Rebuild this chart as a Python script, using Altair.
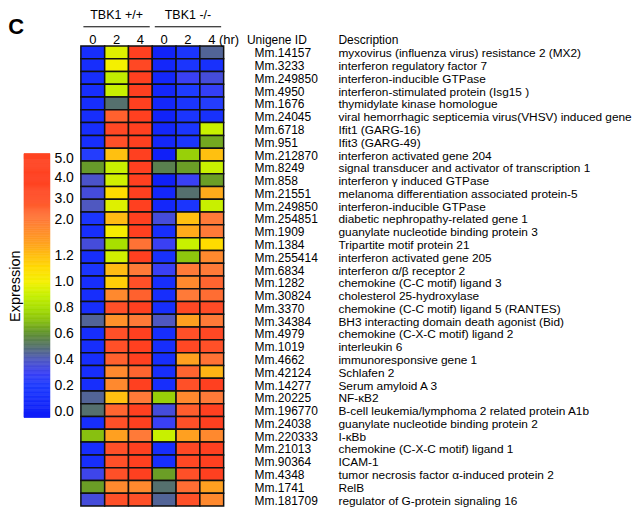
import altair as alt
import pandas as pd

FONT = "Liberation Sans"

unigene_ids = [
    "Mm.14157", "Mm.3233", "Mm.249850", "Mm.4950", "Mm.1676", "Mm.24045",
    "Mm.6718", "Mm.951", "Mm.212870", "Mm.8249", "Mm.858", "Mm.21551",
    "Mm.249850", "Mm.254851", "Mm.1909", "Mm.1384", "Mm.255414", "Mm.6834",
    "Mm.1282", "Mm.30824", "Mm.3370", "Mm.34384", "Mm.4979", "Mm.1019",
    "Mm.4662", "Mm.42124", "Mm.14277", "Mm.20225", "Mm.196770", "Mm.24038",
    "Mm.220333", "Mm.21013", "Mm.90364", "Mm.4348", "Mm.1741", "Mm.181709",
]
descriptions = [
    "myxovirus (influenza virus) resistance 2 (MX2)",
    "interferon regulatory factor 7",
    "interferon-inducible GTPase",
    "interferon-stimulated protein (Isg15 )",
    "thymidylate kinase homologue",
    "viral hemorrhagic septicemia virus(VHSV) induced gene",
    "Ifit1 (GARG-16)",
    "Ifit3 (GARG-49)",
    "interferon activated gene 204",
    "signal transducer and activator of transcription 1",
    "interferon \u03b3 induced GTPase",
    "melanoma differentiation associated protein-5",
    "interferon-inducible GTPase",
    "diabetic nephropathy-related gene 1",
    "guanylate nucleotide binding protein 3",
    "Tripartite motif protein 21",
    "interferon activated gene 205",
    "interferon \u03b1/\u03b2 receptor 2",
    "chemokine (C-C motif) ligand 3",
    "cholesterol 25-hydroxylase",
    "chemokine (C-C motif) ligand 5 (RANTES)",
    "BH3 interacting domain death agonist (Bid)",
    "chemokine (C-X-C motif) ligand 2",
    "interleukin 6",
    "immunoresponsive gene 1",
    "Schlafen 2",
    "Serum amyloid A 3",
    "NF-\u03baB2",
    "B-cell leukemia/lymphoma 2 related protein A1b",
    "guanylate nucleotide binding protein 2",
    "I-\u03baBb",
    "chemokine (C-X-C motif) ligand 1",
    "ICAM-1",
    "tumor necrosis factor \u03b1-induced protein 2",
    "RelB",
    "regulator of G-protein signaling 16",
]

col_keys = ["p0", "p2", "p4", "m0", "m2", "m4"]
col_labels = ["0", "2", "4", "0", "2", "4 (hr)"]
group_names = ["TBK1 +/+", "TBK1 -/-"]
group_start = ["p0", "m0"]
group_mid = ["p2", "m2"]
group_end = ["p4", "m4"]

wt_0h = [0.1, 0.1, 0.1, 0.1, 0.1, 0.1, 0.1, 0.1, 0.22, 0.62, 0.38, 0.35,
         0.4, 0.15, 0.1, 0.35, 0.1, 0.15, 0.1, 0.1, 0.1, 0.45, 0.1, 0.1,
         0.1, 0.1, 0.1, 0.45, 0.5, 0.1, 0.7, 0.1, 0.1, 0.32, 0.63, 0.35]
wt_2h = [0.95, 1.0, 0.88, 0.9, 0.5, 2.6, 3.5, 3.0, 1.2, 0.9, 0.92, 1.1,
         0.95, 1.25, 1.02, 0.8, 0.92, 1.25, 1.15, 1.8, 3.0, 1.7, 3.0, 3.0,
         2.6, 1.8, 1.8, 1.2, 2.5, 3.0, 1.5, 3.0, 3.0, 3.0, 1.8, 3.0]
wt_4h = [4.0, 3.5, 4.0, 4.0, 4.0, 4.0, 4.0, 4.0, 4.0, 4.0, 4.0, 4.0,
         4.0, 4.0, 4.0, 2.2, 4.0, 2.0, 3.0, 2.6, 4.0, 2.0, 4.0, 4.0,
         4.0, 2.5, 4.0, 2.0, 4.0, 4.0, 2.0, 4.0, 4.0, 4.0, 1.8, 3.0]
ko_0h = [0.02, 0.05, 0.05, 0.05, 0.05, 0.02, 0.05, 0.05, 0.0, 0.55, 0.0, 0.05,
         0.05, 0.35, 0.1, 0.3, 0.12, 0.3, 0.1, 0.1, 0.1, 0.4, 0.1, 0.1,
         0.1, 0.1, 0.1, 0.75, 0.35, 0.3, 0.9, 0.1, 0.1, 0.63, 0.5, 0.45]
ko_2h = [0.15, 0.15, 0.3, 0.2, 0.15, 0.15, 0.15, 0.15, 0.75, 0.63, 0.3, 0.5,
         0.15, 1.2, 1.4, 0.9, 0.72, 2.0, 1.8, 2.0, 3.5, 1.5, 3.0, 3.5,
         1.5, 2.5, 3.0, 1.8, 2.7, 3.0, 1.5, 3.5, 3.5, 3.0, 2.3, 3.0]
ko_4h = [0.45, 0.12, 0.35, 0.28, 0.22, 0.12, 0.9, 0.65, 1.2, 0.9, 0.63, 1.4,
         0.9, 2.0, 2.0, 1.1, 1.8, 2.0, 2.5, 2.3, 3.3, 2.0, 3.5, 3.0,
         2.2, 1.3, 4.0, 2.0, 4.0, 4.0, 1.8, 4.0, 4.0, 4.0, 1.5, 1.8]

color_stops = [0.0, 0.2, 0.3, 0.4, 0.5, 0.6, 0.7, 0.8, 0.9, 1.0, 1.1, 1.2, 1.5, 2.0, 3.0, 4.0, 5.0]
color_hex = ["#1020f8", "#1e3cff", "#3a40f4", "#4f58c0", "#55706e", "#5f9030",
             "#88c010", "#a8e000", "#c8f000", "#f4f000", "#ffdc00", "#ffc010",
             "#ffa020", "#ff7a38", "#ff5028", "#ff4020", "#ff4624"]

legend_ticks = [0.0, 0.2, 0.4, 0.6, 0.8, 1.0, 1.2, 2.0, 3.0, 4.0, 5.0]
legend_domain = [-0.05] + legend_ticks + [5.25]
# page position (reference pixels) of each legend stop
legend_ref_page = [418, 412, 386, 360, 334, 308, 282, 256, 220, 199, 178, 159, 154]

ROW_H = 12.8
PANEL_TOP = 20.4  # page y of the top of the panels
rows = [f"r{i + 1:02d}" for i in range(len(unigene_ids))]
y_domain = ["g", "t"] + rows
H = ROW_H * len(y_domain)
legend_range = [p - PANEL_TOP for p in legend_ref_page]

records = []
for key, vals in zip(col_keys, [wt_0h, wt_2h, wt_4h, ko_0h, ko_2h, ko_4h]):
    for r, v in zip(rows, vals):
        records.append({"row": r, "col": key, "value": v})
cells = pd.DataFrame(records)

color_scale = alt.Scale(domain=color_stops, range=color_hex, interpolate="rgb")
yscale = alt.Scale(domain=y_domain, paddingInner=0, paddingOuter=0)
xscale = alt.Scale(domain=col_keys, paddingInner=0, paddingOuter=0)

heat_cells = alt.Chart(cells).mark_rect(stroke="#111111", strokeWidth=1.5).encode(
    x=alt.X("col:N", scale=xscale, axis=None),
    y=alt.Y("row:N", scale=yscale, axis=None),
    color=alt.Color("value:Q", scale=color_scale, legend=None),
)

tl = pd.DataFrame({"col": col_keys, "label": col_labels, "row": ["t"] * len(col_keys)})
time_text = alt.Chart(tl).mark_text(
    align="left", baseline="middle", dx=-3.6, fontSize=13, font=FONT, color="black"
).encode(
    x=alt.X("col:N", scale=xscale, axis=None),
    y=alt.Y("row:N", scale=yscale, axis=None),
    text="label:N",
)

gl = pd.DataFrame({"name": group_names, "mid": group_mid, "start": group_start,
                   "end": group_end, "row": ["g"] * len(group_names)})
group_text = alt.Chart(gl).mark_text(
    baseline="middle", dy=-12, fontSize=12.5, font=FONT, color="black"
).encode(
    x=alt.X("mid:N", scale=xscale, axis=None),
    y=alt.Y("row:N", scale=yscale, axis=None),
    text="name:N",
)
group_rule = alt.Chart(gl).mark_rule(
    color="black", strokeWidth=1, xOffset=-9.4, x2Offset=9.4
).encode(
    x=alt.X("start:N", scale=xscale, axis=None),
    x2="end:N",
    y=alt.Y("row:N", scale=yscale, axis=None),
)

heat = alt.layer(heat_cells, time_text, group_text, group_rule).properties(width=143, height=H)

TXT = 12
DESC_TXT = 11.85
idf = pd.DataFrame({"row": rows, "uid": unigene_ids})
ids_text = alt.Chart(idf).mark_text(
    align="left", baseline="middle", dy=1, fontSize=TXT, font=FONT, color="black"
).encode(x=alt.value(0), y=alt.Y("row:N", scale=yscale, axis=None), text="uid:N")
ids_hdr = alt.Chart(pd.DataFrame({"row": ["t"], "label": ["Unigene ID"]})).mark_text(
    align="left", baseline="middle", dx=-7.7, fontSize=TXT, font=FONT, color="black"
).encode(x=alt.value(0), y=alt.Y("row:N", scale=yscale, axis=None), text="label:N")
ids = alt.layer(ids_text, ids_hdr).properties(width=52.7, height=H)

ddf = pd.DataFrame({"row": rows, "desc": descriptions})
desc_text = alt.Chart(ddf).mark_text(
    align="left", baseline="middle", dy=1, fontSize=DESC_TXT, font=FONT, color="black"
).encode(x=alt.value(0), y=alt.Y("row:N", scale=yscale, axis=None), text="desc:N")
desc_hdr = alt.Chart(pd.DataFrame({"row": ["t"], "label": ["Description"]})).mark_text(
    align="left", baseline="middle", fontSize=TXT, font=FONT, color="black"
).encode(x=alt.value(0), y=alt.Y("row:N", scale=yscale, axis=None), text="label:N")
desc = alt.layer(desc_text, desc_hdr).properties(width=270, height=H)

# legend gradient sampled through the same colour scale
leg_rows = []
for a, b in zip(legend_domain[:-1], legend_domain[1:]):
    n = 20
    for k in range(n):
        lo = a + (b - a) * k / n
        hi = a + (b - a) * (k + 1) / n
        mid = min(max((lo + hi) / 2, 0.0), 5.0)
        leg_rows.append({"lo": lo, "hi": hi, "mid": mid})
legdf = pd.DataFrame(leg_rows)

legend = alt.Chart(legdf).mark_rect(strokeWidth=0.6).encode(
    y=alt.Y("lo:Q", scale=alt.Scale(domain=legend_domain, range=legend_range),
            axis=alt.Axis(orient="right", values=legend_ticks, format=".1f", ticks=False,
                          domain=False, grid=False, labelPadding=4, labelFontSize=14,
                          labelFont=FONT, labelColor="black", title=None)),
    y2="hi:Q",
    color=alt.Color("mid:Q", scale=color_scale, legend=None),
    stroke=alt.Stroke("mid:Q", scale=color_scale, legend=None),
).properties(
    width=26, height=H,
    title=alt.TitleParams("Expression", orient="left", anchor="middle", fontSize=14.5,
                          fontWeight="normal", font=FONT, color="black", offset=0, dx=-23),
)

chart = alt.hconcat(legend, heat, ids, desc, spacing=31, bounds="flush").properties(
    padding={"left": 0, "top": 0, "right": 0, "bottom": 0},
    background="white",
    title=alt.TitleParams("C", anchor="start", fontSize=22, fontWeight="bold", font=FONT,
                          color="black", offset=-30),
).configure_view(stroke=None)

chart.save("out.html", embed_options={"renderer": "svg", "actions": False})
